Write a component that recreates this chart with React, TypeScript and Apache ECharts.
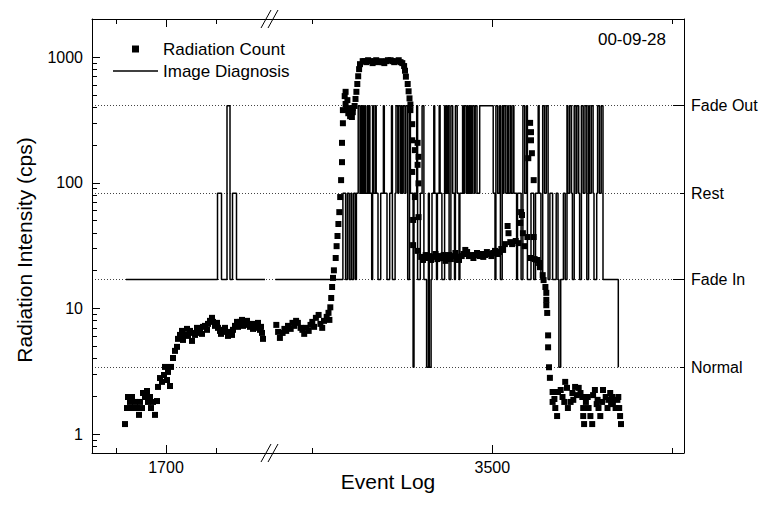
import React, { useEffect, useRef } from "react";
import * as echarts from "echarts";

const FONT = "'Liberation Sans', Arial, Helvetica, sans-serif";

// Image diagnosis levels (right axis)
const LEVEL_NAMES = ["Normal", "Fade In", "Rest", "Fade Out"];
const LEVEL_VALUES = [3.4, 17, 82.5, 411];
const LEVEL_MAJOR = [1, 3]; // indices with long ticks
const LEVEL_MINOR = [0, 2];

// Left axis ticks
const Y_TICKS = [1, 10, 100, 1000];
const Y_MINOR_TICKS = [0.8, 0.9, 2, 3, 4, 5, 6, 7, 8, 9, 20, 30, 40, 50, 60, 70, 80, 90, 200, 300, 400, 500, 600, 700, 800, 900];
const Y_RANGE = [0.706, 2014];

// Broken x axis: two segments
const X_LEFT_RANGE = [1552, 1908];
const X_RIGHT_RANGE = [3253, 3713];
const X_LEFT_MAJOR = [1700];
const X_LEFT_MINOR = [1600, 1800];
const X_RIGHT_MAJOR = [3500];
const X_RIGHT_MINOR = [3300, 3700];

// Radiation count (cps), left segment [event, cps]
const RAD_LEFT: number[][] = [
  [1618, 1.2], [1622, 1.61], [1624, 1.97], [1628, 1.8], [1630, 1.61], [1632, 1.97], [1634, 1.61], [1638, 1.8],
  [1640, 1.61], [1642, 1.61], [1646, 1.42], [1648, 1.8], [1652, 1.61], [1654, 2.12], [1658, 1.97], [1662, 2.2],
  [1664, 1.8], [1668, 1.97], [1670, 1.61], [1674, 1.8], [1678, 1.42], [1682, 1.83], [1684, 2.37], [1688, 2.79],
  [1692, 2.6], [1696, 2.95], [1698, 3.42], [1702, 2.69], [1704, 3.12], [1708, 2.41], [1710, 3.42], [1714, 4.03],
  [1718, 4.59], [1722, 4.94], [1724, 5.72], [1728, 6.15], [1732, 6.62], [1734, 5.61], [1738, 6.15], [1742, 6.87],
  [1744, 6.04], [1748, 6.62], [1752, 5.51], [1754, 6.38], [1758, 6.15], [1762, 7.0], [1764, 6.38], [1768, 6.62],
  [1772, 6.27], [1774, 7.13], [1778, 7.26], [1782, 6.75], [1784, 7.53], [1788, 7.96], [1792, 8.41], [1794, 7.81],
  [1798, 7.26], [1802, 7.67], [1804, 7.0], [1808, 6.62], [1810, 6.27], [1814, 6.75], [1818, 7.0], [1822, 6.5],
  [1824, 6.04], [1828, 6.38], [1832, 6.15], [1834, 6.75], [1838, 7.26], [1842, 7.81], [1844, 7.13], [1848, 7.81],
  [1852, 8.1], [1854, 7.26], [1858, 7.67], [1862, 7.96], [1864, 7.39], [1868, 7.13], [1872, 7.53], [1874, 6.87],
  [1878, 7.39], [1882, 7.0], [1884, 7.67], [1888, 6.75], [1890, 7.13], [1892, 6.38], [1894, 5.72],
];

// Radiation count (cps), right segment [event, cps]
const RAD_RIGHT: number[][] = [
  [3260, 7.39], [3262, 6.5], [3264, 5.82], [3267, 6.38], [3269, 6.87], [3271, 6.62], [3273, 7.26], [3276, 6.87],
  [3278, 7.67], [3280, 7.26], [3282, 7.96], [3284, 7.67], [3287, 7.0], [3289, 6.75], [3291, 6.27], [3293, 7.0],
  [3296, 6.62], [3298, 7.39], [3300, 7.81], [3302, 7.13], [3304, 8.41], [3307, 8.87], [3309, 7.53], [3311, 7.0],
  [3313, 7.96], [3316, 8.56], [3318, 9.22], [3319, 8.1],
  [3320, 10.2], [3321, 12.1], [3322, 14.8], [3323, 17.5], [3324, 20.1], [3326, 25.2], [3327, 31.3], [3328, 37.7],
  [3329, 47.0], [3330, 58.4], [3331, 77.0], [3332, 105], [3333, 146], [3333, 208], [3334, 298], [3334, 379],
  [3336, 490], [3337, 530], [3337, 424], [3338, 385], [3339, 455], [3340, 358], [3341, 393], [3342, 339],
  [3343, 365], [3344, 334], [3345, 393], [3345, 365], [3347, 409], [3348, 465], [3349, 530], [3350, 612],
  [3351, 705], [3352, 803], [3353, 880], [3356, 930],
  [3358, 930], [3360, 913], [3362, 946], [3364, 930], [3367, 897], [3369, 930], [3371, 946], [3373, 913],
  [3376, 930], [3378, 913], [3380, 897], [3382, 930], [3384, 946], [3387, 946], [3389, 930], [3391, 913],
  [3393, 930], [3396, 946], [3398, 913], [3400, 897],
  [3402, 850], [3403, 780], [3404, 700], [3406, 612], [3407, 535], [3408, 470], [3409, 420], [3409, 379],
  [3411, 293], [3411, 218], [3417, 208], [3414, 182], [3418, 161], [3417, 139], [3411, 122], [3418, 99],
  [3414, 77], [3412, 50.6], [3418, 53.3], [3412, 31.9], [3417, 28.7],
  [3421, 25.7], [3423, 24.3], [3426, 26.6], [3428, 25.2], [3430, 26.1], [3432, 24.3], [3434, 25.7], [3437, 27.1],
  [3439, 24.7], [3441, 26.1], [3443, 25.2], [3446, 26.6], [3448, 23.9], [3450, 25.7], [3452, 26.6], [3454, 24.7],
  [3457, 26.1], [3459, 27.6], [3461, 25.7], [3463, 24.3], [3466, 26.1], [3468, 27.1], [3470, 29.2], [3472, 28.1],
  [3474, 26.1], [3477, 26.6], [3479, 25.2], [3481, 26.6], [3483, 27.6], [3486, 26.1], [3488, 27.1], [3490, 25.7],
  [3492, 26.6], [3494, 28.1], [3497, 27.1], [3499, 26.1], [3501, 27.6], [3503, 28.7], [3506, 27.1], [3508, 28.1],
  [3510, 29.7], [3512, 29.2], [3514, 32.5],
  [3517, 45.3], [3518, 39.7], [3520, 33.7], [3522, 32.5], [3526, 34.4], [3529, 33.1], [3531, 47.9], [3532, 58.4],
  [3533, 55.4], [3534, 39.7], [3536, 31.3], [3539, 37.0], [3542, 300], [3543, 253], [3543, 218], [3544, 172],
  [3540, 157], [3546, 105], [3546, 37.0], [3542, 25.2], [3547, 24.7], [3550, 24.3], [3552, 23.0], [3553, 21.3],
  [3556, 18.4], [3557, 16.8], [3559, 14.8], [3560, 13.3], [3560, 11.7], [3560, 10.6], [3561, 9.2], [3562, 6.1],
  [3562, 4.9], [3563, 3.4], [3564, 2.8],
  [3567, 2.16], [3567, 1.8], [3569, 1.9], [3570, 1.61], [3572, 1.39], [3573, 2.16], [3576, 2.24], [3578, 1.97],
  [3580, 1.8], [3581, 2.6], [3583, 2.33], [3584, 1.61], [3587, 1.8], [3589, 2.12], [3590, 1.87], [3592, 2.37],
  [3594, 2.04], [3596, 2.33], [3598, 2.12], [3600, 1.97], [3601, 1.61], [3601, 1.39], [3602, 1.2], [3604, 1.8],
  [3606, 1.97], [3607, 1.61], [3609, 1.39], [3611, 1.2], [3612, 2.04], [3614, 2.24], [3616, 1.73], [3617, 1.87],
  [3618, 1.61], [3620, 1.39], [3622, 1.8], [3623, 2.24], [3626, 1.97], [3628, 1.61], [3629, 1.87], [3631, 2.12],
  [3632, 1.73], [3633, 1.97], [3634, 1.77], [3637, 1.61], [3639, 1.87], [3640, 1.97], [3641, 1.61], [3642, 1.39],
  [3643, 1.2],
];

// Image diagnosis: [event where level starts, level index]
const DIAG_LEFT: number[][] = [
  [1620, 1], [1803, 2], [1811, 1], [1822, 3], [1828, 1], [1833, 2], [1841, 1], [1898, 1],
];

const DIAG_RIGHT: number[][] = [
  [3259, 1], [3334, 2], [3337, 1], [3339, 2], [3341, 1], [3343, 2], [3344, 1], [3346, 2], [3348, 1], [3349, 2],
  [3351, 3], [3353, 2], [3354, 3], [3355, 2], [3356, 3], [3357, 2], [3358, 3], [3359, 2], [3361, 3], [3362, 2],
  [3363, 3], [3364, 2], [3366, 1], [3367, 3], [3368, 2], [3370, 3], [3371, 2], [3373, 1], [3376, 2], [3379, 3],
  [3380, 2], [3383, 1], [3386, 2], [3388, 3], [3389, 1], [3392, 2], [3393, 3], [3395, 2], [3396, 3], [3398, 2],
  [3399, 3], [3400, 2], [3401, 3], [3403, 2], [3404, 3], [3406, 1], [3408, 3], [3409, 2], [3412, 0], [3413, 2],
  [3416, 3], [3417, 1], [3420, 2], [3422, 3], [3424, 1], [3427, 0], [3429, 2], [3430, 0], [3432, 1], [3433, 2],
  [3435, 3], [3436, 2], [3438, 1], [3439, 2], [3441, 3], [3442, 2], [3444, 1], [3447, 3], [3448, 2], [3449, 3],
  [3450, 2], [3451, 3], [3452, 1], [3454, 3], [3456, 2], [3458, 1], [3459, 3], [3461, 2], [3463, 1], [3464, 2],
  [3467, 3], [3468, 2], [3469, 3], [3471, 2], [3472, 3], [3473, 2], [3474, 3], [3475, 2], [3476, 3], [3477, 2],
  [3478, 3], [3480, 2], [3481, 3], [3483, 2], [3486, 3], [3501, 2], [3503, 1], [3504, 3], [3506, 2], [3508, 3],
  [3509, 1], [3511, 3], [3512, 2], [3513, 3], [3515, 2], [3517, 3], [3518, 2], [3520, 3], [3521, 2], [3523, 3],
  [3524, 2], [3527, 1], [3528, 2], [3532, 1], [3534, 3], [3536, 2], [3538, 3], [3539, 1], [3543, 2], [3546, 1],
  [3548, 2], [3551, 3], [3552, 2], [3554, 1], [3556, 3], [3558, 2], [3560, 3], [3562, 1], [3564, 2], [3567, 1],
  [3571, 2], [3573, 1], [3574, 0], [3576, 1], [3579, 2], [3581, 1], [3583, 3], [3584, 2], [3586, 3], [3588, 2],
  [3589, 1], [3591, 3], [3593, 2], [3594, 3], [3596, 2], [3597, 1], [3599, 3], [3601, 2], [3603, 3], [3605, 1],
  [3607, 3], [3608, 2], [3610, 3], [3612, 2], [3613, 1], [3616, 2], [3617, 3], [3619, 2], [3621, 3], [3623, 1],
  [3640, 0],
];

const DATE_LABEL = "00-09-28";

function levelName(v: number): string {
  let best = 0;
  let bd = Infinity;
  LEVEL_VALUES.forEach((lv, i) => {
    const d = Math.abs(Math.log(v / lv));
    if (d < bd) {
      bd = d;
      best = i;
    }
  });
  return LEVEL_NAMES[best];
}

const TXT = { color: "#000", fontFamily: FONT };

function hiddenX(gridIndex: number, position: string, range: number[]) {
  return {
    type: "value",
    gridIndex,
    position,
    min: range[0],
    max: range[1],
    axisLine: { show: false, onZero: false },
    splitLine: { show: false },
    axisLabel: { show: false },
    axisTick: { show: false },
  };
}

function tickX(gridIndex: number, position: string, range: number[], ticks: number[], len: number, labels: boolean) {
  const ax: any = hiddenX(gridIndex, position, range);
  ax.axisTick = { show: true, inside: true, length: len, customValues: ticks, lineStyle: { color: "#000", width: 1 } };
  if (labels) {
    ax.axisLabel = {
      show: true,
      customValues: ticks,
      margin: 6,
      fontSize: 16,
      ...TXT,
      formatter: (v: number) => String(Math.round(v)),
    };
  }
  return ax;
}

export default function App() {
  const ref = useRef<HTMLDivElement>(null);

  useEffect(() => {
    if (!ref.current) return;
    const chart = echarts.init(ref.current, undefined, { renderer: "svg" });

    const diagLeft = DIAG_LEFT.map(([e, l]) => [e, LEVEL_VALUES[l]]);
    const diagRight = DIAG_RIGHT.map(([e, l]) => [e, LEVEL_VALUES[l]]);

    const G0 = { left: 92, top: 19, width: 592, height: 434 };
    const G1 = { left: 92, top: 19, width: 178, height: 434 };
    const G2 = { left: 270, top: 19, width: 414, height: 434 };

    const logY = (gridIndex: number, position: string) => ({
      type: "log",
      gridIndex,
      position,
      min: Y_RANGE[0],
      max: Y_RANGE[1],
      axisLine: { show: false, onZero: false },
      splitLine: { show: false },
      axisLabel: { show: false },
      axisTick: { show: false },
    });

    const option: any = {
      animation: false,
      backgroundColor: "#fff",
      title: {
        text: DATE_LABEL,
        right: 97,
        top: 29,
        padding: 0,
        textStyle: { fontSize: 17, fontWeight: "normal", lineHeight: 20, ...TXT },
      },
      legend: {
        orient: "vertical",
        left: 113,
        top: 40,
        padding: 0,
        itemWidth: 45,
        itemHeight: 7,
        itemGap: 4,
        selectedMode: false,
        textStyle: { fontSize: 17, lineHeight: 18, ...TXT },
        data: [
          { name: "Radiation Count", icon: "path://M0,0M45,7M19,0h7v7h-7z", itemStyle: { color: "#000", opacity: 1 } },
          { name: "Image Diagnosis", icon: "path://M0,0M45,7M0,2.75h45v1.5h-45z", itemStyle: { color: "#000", opacity: 1 } },
        ],
      },
      grid: [G0, G1, G2],
      xAxis: [
        {
          type: "value",
          gridIndex: 0,
          position: "bottom",
          min: 0,
          max: 1,
          axisLine: { show: true, onZero: false, lineStyle: { color: "#000", width: 1 } },
          axisTick: { show: false },
          axisLabel: { show: false },
          splitLine: { show: false },
          name: "Event Log",
          nameLocation: "middle",
          nameGap: 18,
          nameTextStyle: { fontSize: 21, ...TXT },
        },
        {
          type: "value",
          gridIndex: 0,
          position: "top",
          min: 0,
          max: 1,
          axisLine: { show: true, onZero: false, lineStyle: { color: "#000", width: 1 } },
          axisTick: { show: false },
          axisLabel: { show: false },
          splitLine: { show: false },
        },
        tickX(1, "bottom", X_LEFT_RANGE, X_LEFT_MAJOR, 8, true),
        tickX(1, "bottom", X_LEFT_RANGE, X_LEFT_MINOR, 5, false),
        tickX(1, "top", X_LEFT_RANGE, X_LEFT_MAJOR, 8, false),
        tickX(1, "top", X_LEFT_RANGE, X_LEFT_MINOR, 5, false),
        tickX(2, "bottom", X_RIGHT_RANGE, X_RIGHT_MAJOR, 8, true),
        tickX(2, "bottom", X_RIGHT_RANGE, X_RIGHT_MINOR, 5, false),
        tickX(2, "top", X_RIGHT_RANGE, X_RIGHT_MAJOR, 8, false),
        tickX(2, "top", X_RIGHT_RANGE, X_RIGHT_MINOR, 5, false),
      ],
      yAxis: [
        {
          ...logY(0, "left"),
          axisLine: { show: true, onZero: false, lineStyle: { color: "#000", width: 1 } },
          axisTick: { show: true, inside: true, length: 8, customValues: Y_TICKS, lineStyle: { color: "#000" } },
          axisLabel: {
            show: true,
            customValues: Y_TICKS,
            margin: 9,
            fontSize: 16,
            ...TXT,
            formatter: (v: number) => String(Math.round(v)),
          },
          name: "Radiation Intensity (cps)",
          nameLocation: "middle",
          nameGap: 57,
          nameTextStyle: { fontSize: 21, padding: [0, 28, 0, 0], ...TXT },
        },
        {
          ...logY(0, "left"),
          axisTick: { show: true, inside: true, length: 5, customValues: Y_MINOR_TICKS, lineStyle: { color: "#000" } },
        },
        {
          ...logY(0, "right"),
          axisLine: { show: true, onZero: false, lineStyle: { color: "#000", width: 1 } },
          axisTick: {
            show: true,
            inside: true,
            length: 11,
            customValues: LEVEL_MAJOR.map((i) => LEVEL_VALUES[i]),
            lineStyle: { color: "#000" },
          },
          axisLabel: {
            show: true,
            customValues: LEVEL_MAJOR.map((i) => LEVEL_VALUES[i]),
            margin: 7,
            fontSize: 16,
            ...TXT,
            formatter: (v: number) => levelName(v),
          },
          splitLine: { show: true, lineStyle: { color: "#444", width: 1, type: [1, 2] } },
        },
        {
          ...logY(0, "right"),
          axisTick: {
            show: true,
            inside: true,
            length: 4,
            customValues: LEVEL_MINOR.map((i) => LEVEL_VALUES[i]),
            lineStyle: { color: "#000" },
          },
          axisLabel: {
            show: true,
            customValues: LEVEL_MINOR.map((i) => LEVEL_VALUES[i]),
            margin: 7,
            fontSize: 16,
            ...TXT,
            formatter: (v: number) => levelName(v),
          },
          splitLine: { show: true, lineStyle: { color: "#444", width: 1, type: [1, 2] } },
        },
        logY(1, "left"),
        logY(2, "left"),
      ],
      graphic: [
        { type: "line", shape: { x1: 261, y1: 28, x2: 271, y2: 10 }, style: { stroke: "#000", lineWidth: 1 } },
        { type: "line", shape: { x1: 268, y1: 28, x2: 278, y2: 10 }, style: { stroke: "#000", lineWidth: 1 } },
        { type: "line", shape: { x1: 261, y1: 462, x2: 271, y2: 444 }, style: { stroke: "#000", lineWidth: 1 } },
        { type: "line", shape: { x1: 268, y1: 462, x2: 278, y2: 444 }, style: { stroke: "#000", lineWidth: 1 } },
      ],
      series: [
        {
          name: "Image Diagnosis",
          type: "line",
          step: "end",
          xAxisIndex: 2,
          yAxisIndex: 4,
          data: diagLeft,
          symbol: "none",
          lineStyle: { color: "#000", width: 1.5 },
          itemStyle: { color: "#000" },
        },
        {
          name: "Image Diagnosis",
          type: "line",
          step: "end",
          xAxisIndex: 6,
          yAxisIndex: 5,
          data: diagRight,
          symbol: "none",
          lineStyle: { color: "#000", width: 1.5 },
          itemStyle: { color: "#000" },
        },
        {
          name: "Radiation Count",
          type: "scatter",
          xAxisIndex: 2,
          yAxisIndex: 4,
          data: RAD_LEFT,
          symbol: "rect",
          symbolSize: 6,
          itemStyle: { color: "#000", opacity: 1 },
        },
        {
          name: "Radiation Count",
          type: "scatter",
          xAxisIndex: 6,
          yAxisIndex: 5,
          data: RAD_RIGHT,
          symbol: "rect",
          symbolSize: 6,
          itemStyle: { color: "#000", opacity: 1 },
        },
      ],
    };

    chart.setOption(option);
    return () => {
      chart.dispose();
    };
  }, []);

  return (
    <div
      ref={ref}
      style={{ position: "fixed", left: 0, top: 0, width: 763, height: 519, background: "#fff" }}
    />
  );
}
